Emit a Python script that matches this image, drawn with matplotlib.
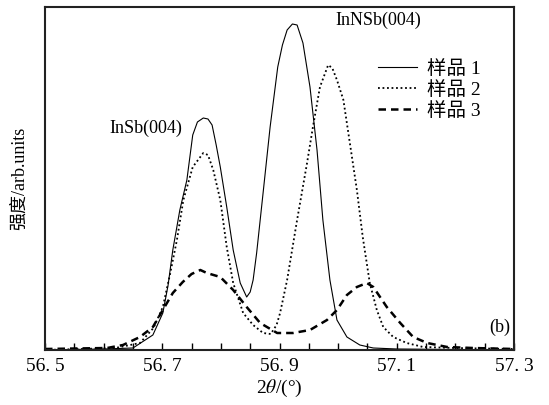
import matplotlib
matplotlib.use("Agg")
import matplotlib.pyplot as plt
from matplotlib.ticker import MultipleLocator, FuncFormatter

plt.rcParams['font.family'] = ['Liberation Serif', 'Noto Sans CJK SC', 'DejaVu Sans']
plt.rcParams['mathtext.fontset'] = 'stix'

x1 = [56.50, 56.60, 56.65, 56.684, 56.701, 56.71, 56.718, 56.730, 56.742, 56.752, 56.760,
      56.770, 56.778, 56.785, 56.792, 56.799, 56.810, 56.821, 56.833, 56.844, 56.850, 56.855,
      56.861, 56.872, 56.884, 56.897, 56.905, 56.913, 56.922, 56.930, 56.940, 56.952, 56.964,
      56.974, 56.986, 56.998, 57.015, 57.037, 57.06, 57.10, 57.30]
y1 = [0, 1, 2, 15, 37, 65, 100, 140, 170, 215, 228,
      232, 231, 225, 205, 183, 143, 100, 67, 53, 58, 70,
      97, 157, 223, 283, 305, 320, 326, 325, 307, 263, 200,
      130, 70, 30, 13, 5, 2, 1, 0]

x2 = [56.50, 56.62, 56.662, 56.685, 56.701, 56.713, 56.725, 56.736, 56.752, 56.770, 56.778,
      56.787, 56.799, 56.810, 56.821, 56.838, 56.855, 56.872, 56.885, 56.895, 56.901, 56.913,
      56.930, 56.947, 56.957, 56.969, 56.983, 56.990, 56.998, 57.009, 57.020, 57.032, 57.042,
      57.054, 57.066, 57.077, 57.094, 57.117, 57.145, 57.20, 57.30]
y2 = [0, 2, 7, 22, 43, 75, 110, 150, 183, 197, 195,
      180, 150, 103, 67, 37, 25, 17, 16, 25, 37, 70,
      130, 187, 223, 263, 285, 282, 270, 250, 207, 160, 113,
      67, 40, 23, 13, 7, 3, 2, 1]

x3 = [56.50, 56.606, 56.633, 56.662, 56.684, 56.701, 56.718, 56.735, 56.750, 56.765, 56.776,
      56.799, 56.821, 56.844, 56.867, 56.896, 56.923, 56.952, 56.981, 56.998, 57.015, 57.032,
      57.049, 57.060, 57.083, 57.106, 57.128, 57.152, 57.186, 57.23, 57.30]
y3 = [1, 2, 5, 13, 23, 40, 57, 68, 76, 80, 77,
      73, 60, 43, 27, 17, 17, 20, 30, 40, 55, 63,
      67, 63, 43, 27, 13, 7, 3, 2, 1]

labels = ['样品 1', '样品 2', '样品 3']
xticks = [56.5, 56.7, 56.9, 57.1, 57.3]

fig = plt.figure(figsize=(5.49, 4.05), dpi=100)
ax = fig.add_axes([45/549, 55/405, 469/549, 343/405])

ax.plot(x1, y1, color='black', lw=0.8, ls='-', label=labels[0])
ax.plot(x2, y2, color='black', lw=1.3, ls=(0, (1, 1.5)), label=labels[1])
ax.plot(x3, y3, color='black', lw=1.8, ls=(0, (3, 2)), label=labels[2])

ax.set_xlim(56.5, 57.3)
ax.set_ylim(0, 343)
ax.set_xticks(xticks)
ax.xaxis.set_major_formatter(FuncFormatter(lambda v, p: f"{v:.1f}".replace('.', '. ')))
ax.xaxis.set_minor_locator(MultipleLocator(0.05))
ax.tick_params(axis='x', which='both', direction='in', length=5, width=1, labelsize=14, pad=6)
ax.set_yticks([])
for s in ax.spines.values():
    s.set_linewidth(1.5)
    s.set_color('#222222')

ax.set_xlabel(r'2$\theta$/(°)', fontsize=14, labelpad=2)
ax.set_ylabel('强度/arb.units', fontsize=13, labelpad=12)

ax.text(56.672, 222, 'InSb(004)', fontsize=13, ha='center', va='center')
ax.text(57.068, 330, 'InNSb(004)', fontsize=13, ha='center', va='center')
ax.text(57.275, 23, '(b)', fontsize=13, ha='center', va='center')

ax.legend(loc='upper left', bbox_to_anchor=(0.694, 0.868), frameon=False, fontsize=14,
          handlelength=2.0, handletextpad=0.5, labelspacing=0.15, borderaxespad=0)

fig.savefig('out.png', dpi=100)
